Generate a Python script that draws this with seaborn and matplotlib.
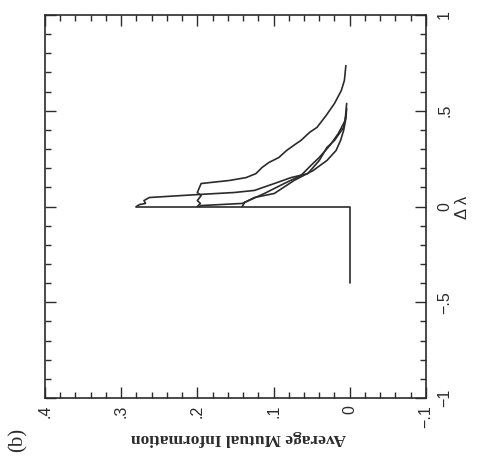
import numpy as np
import pandas as pd
import seaborn as sns
import matplotlib
matplotlib.use("Agg")
import matplotlib.pyplot as plt
from matplotlib.ticker import MultipleLocator, FixedLocator, FixedFormatter

# Step at zero (delta lambda, MI)
step_dl = [-0.40, 0.0, 0.0]
step_mi = [0.0, 0.0, 0.28]

# Curve 1 (highest start, inner)
c1_dl = [0.0, 0.010, 0.016, 0.031, 0.047, 0.063, 0.073, 0.084, 0.120, 0.151,
         0.172, 0.240, 0.308, 0.345, 0.413, 0.475]
c1_mi = [0.280, 0.276, 0.268, 0.270, 0.263, 0.197, 0.152, 0.125, 0.099, 0.077,
         0.055, 0.040, 0.030, 0.020, 0.008, 0.005]

# Curve 2 (outer, longest tail)
c2_dl = [0.0, 0.016, 0.031, 0.057, 0.073, 0.120, 0.136, 0.151, 0.172, 0.204,
         0.230, 0.256, 0.292, 0.329, 0.345, 0.386, 0.413, 0.475, 0.538, 0.606,
         0.658, 0.736]
c2_mi = [0.200, 0.196, 0.200, 0.195, 0.200, 0.195, 0.158, 0.136, 0.123, 0.115,
         0.106, 0.093, 0.083, 0.070, 0.064, 0.053, 0.043, 0.031, 0.020, 0.011,
         0.007, 0.005]

# Curve 3
c3_dl = [0.0, 0.005, 0.016, 0.068, 0.120, 0.162, 0.214, 0.256, 0.319, 0.381,
         0.449, 0.538]
c3_mi = [0.197, 0.195, 0.141, 0.112, 0.086, 0.064, 0.051, 0.040, 0.026, 0.015,
         0.006, 0.004]

# Curve 4 (lowest start)
c4_dl = [0.0, 0.021, 0.047, 0.068, 0.136, 0.188, 0.240, 0.292, 0.345, 0.397,
         0.460, 0.512]
c4_mi = [0.141, 0.138, 0.125, 0.099, 0.073, 0.048, 0.030, 0.018, 0.012, 0.008,
         0.005, 0.004]

mi_ticks = [-0.1, 0.0, 0.1, 0.2, 0.3, 0.4]
mi_labels = ["\u2212.1", "0", ".1", ".2", ".3", ".4"]
dl_ticks = [-1.0, -0.5, 0.0, 0.5, 1.0]
dl_labels = ["\u22121", "\u2212.5", "0", ".5", "1"]

sns.set_style("ticks")
plt.rcParams['font.family'] = ['Liberation Sans', 'DejaVu Sans']

ink = '#2b2b2b'

fig = plt.figure(figsize=(4.78, 4.62), dpi=100)
ax = fig.add_axes([0.094, 0.1385, 0.797, 0.829])

# figure is drawn rotated: MI runs right-to-left, delta lambda bottom-to-top
curves = [(step_dl, step_mi), (c1_dl, c1_mi), (c2_dl, c2_mi),
          (c3_dl, c3_mi), (c4_dl, c4_mi)]
for dl, mi in curves:
    df = pd.DataFrame({'mi': mi, 'dl': dl})
    sns.lineplot(data=df, x='mi', y='dl', sort=False, estimator=None,
                 color=ink, linewidth=1.2, ax=ax)

ax.set_xlim(0.4, -0.1)
ax.set_ylim(-1, 1)

ax.xaxis.set_major_locator(FixedLocator(mi_ticks))
ax.xaxis.set_major_formatter(FixedFormatter(mi_labels))
ax.xaxis.set_minor_locator(MultipleLocator(0.02))
ax.yaxis.set_major_locator(FixedLocator(dl_ticks))
ax.yaxis.set_major_formatter(FixedFormatter(dl_labels))
ax.yaxis.set_minor_locator(MultipleLocator(0.1))

ax.tick_params(which='both', direction='in', top=True, bottom=True,
               left=True, right=True, labelleft=False, labelright=True,
               labelbottom=True, labeltop=False, color=ink, width=1.0)
ax.tick_params(which='major', length=8)
ax.tick_params(which='minor', length=4)
ax.tick_params(axis='x', labelsize=11.5, labelrotation=90, pad=5, labelcolor=ink)
ax.tick_params(axis='y', labelsize=11.5, labelrotation=90, pad=8, labelcolor=ink)
for lab in ax.get_yticklabels():
    lab.set_verticalalignment('center')

for s in ax.spines.values():
    s.set_linewidth(1.2)
    s.set_color(ink)

ax.set_xlabel("")
ax.set_ylabel("")
ax.grid(False)

fig.text(0.50, 0.052, "Average Mutual Information", rotation=180,
         ha='center', va='center', fontsize=12.5, fontweight='bold',
         family='Liberation Serif', color=ink)
fig.text(0.967, 0.552, "\u0394 \u03bb", rotation=90, ha='center',
         va='center', fontsize=12, color=ink)
fig.text(0.038, 0.047, "(b)", rotation=90, ha='center', va='center',
         fontsize=15, family='Liberation Serif', color=ink)

fig.savefig("out.png", dpi=100)
